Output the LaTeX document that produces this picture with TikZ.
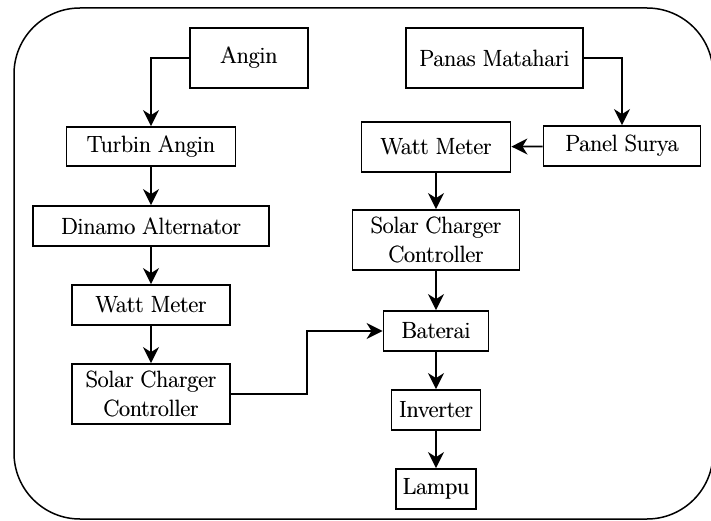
\documentclass[tikz,border=0pt]{standalone}
\usetikzlibrary{arrows.meta}
\newcommand\fbx[1]{\leavevmode\rlap{#1}\kern0.55pt#1}
\begin{document}
\begin{tikzpicture}[x=1pt,y=-1pt,
  blk/.style={draw, line width=1.8pt, inner sep=0pt, align=center,
    font=\fontsize{23.5}{29}\selectfont},
  arr/.style={line width=1.8pt, -{Stealth[length=16pt,width=16pt,inset=5pt]}}]
\useasboundingbox (0,0) rectangle (711,521);
\draw[line width=1.5pt, rounded corners=66pt] (14,8) rectangle (713,519);
% left column
\node[blk, minimum width=118pt, minimum height=60pt] (angin) at (249,58) {\fbx{Angin}};
\node[blk, minimum width=169pt, minimum height=39pt] (turbin) at (151,146.5) {\fbx{Turbin Angin}};
\node[blk, minimum width=236pt, minimum height=40pt] (dinamo) at (151,226) {\fbx{Dinamo Alternator}};
\node[blk, minimum width=158pt, minimum height=40pt] (wm1) at (151,305) {\fbx{Watt Meter}};
\node[blk, minimum width=158pt, minimum height=60pt] (scc1) at (151,394) {\fbx{Solar Charger}\\\fbx{Controller}};
% right column
\node[blk, minimum width=177pt, minimum height=60pt] (panas) at (494.5,58) {\fbx{Panas Matahari}};
\node[blk, minimum width=157pt, minimum height=40pt] (panel) at (622,146) {\fbx{Panel Surya}};
\node[blk, minimum width=149pt, minimum height=50pt] (wm2) at (436,147) {\fbx{Watt Meter}};
\node[blk, minimum width=167pt, minimum height=60pt] (scc2) at (436,240) {\fbx{Solar Charger}\\\fbx{Controller}};
\node[blk, minimum width=105pt, minimum height=40pt] (bat) at (436,331) {\fbx{Baterai}};
\node[blk, minimum width=89pt, minimum height=40pt] (inv) at (436,410) {\fbx{Inverter}};
\node[blk, minimum width=80pt, minimum height=40pt] (lampu) at (436,489) {\fbx{Lampu}};
\coordinate (bend) at (307,394);
% connectors
\draw[arr] (angin.west) -| (turbin.north);
\draw[arr] (turbin) -- (dinamo);
\draw[arr] (dinamo) -- (wm1);
\draw[arr] (wm1) -- (scc1);
\draw[arr] (scc1.east) -- (bend) |- (bat.west);
\draw[arr] (panas.east) -| (panel.north);
\draw[arr] (panel) -- (wm2);
\draw[arr] (wm2) -- (scc2);
\draw[arr] (scc2) -- (bat);
\draw[arr] (bat) -- (inv);
\draw[arr] (inv) -- (lampu);
\end{tikzpicture}
\end{document}
